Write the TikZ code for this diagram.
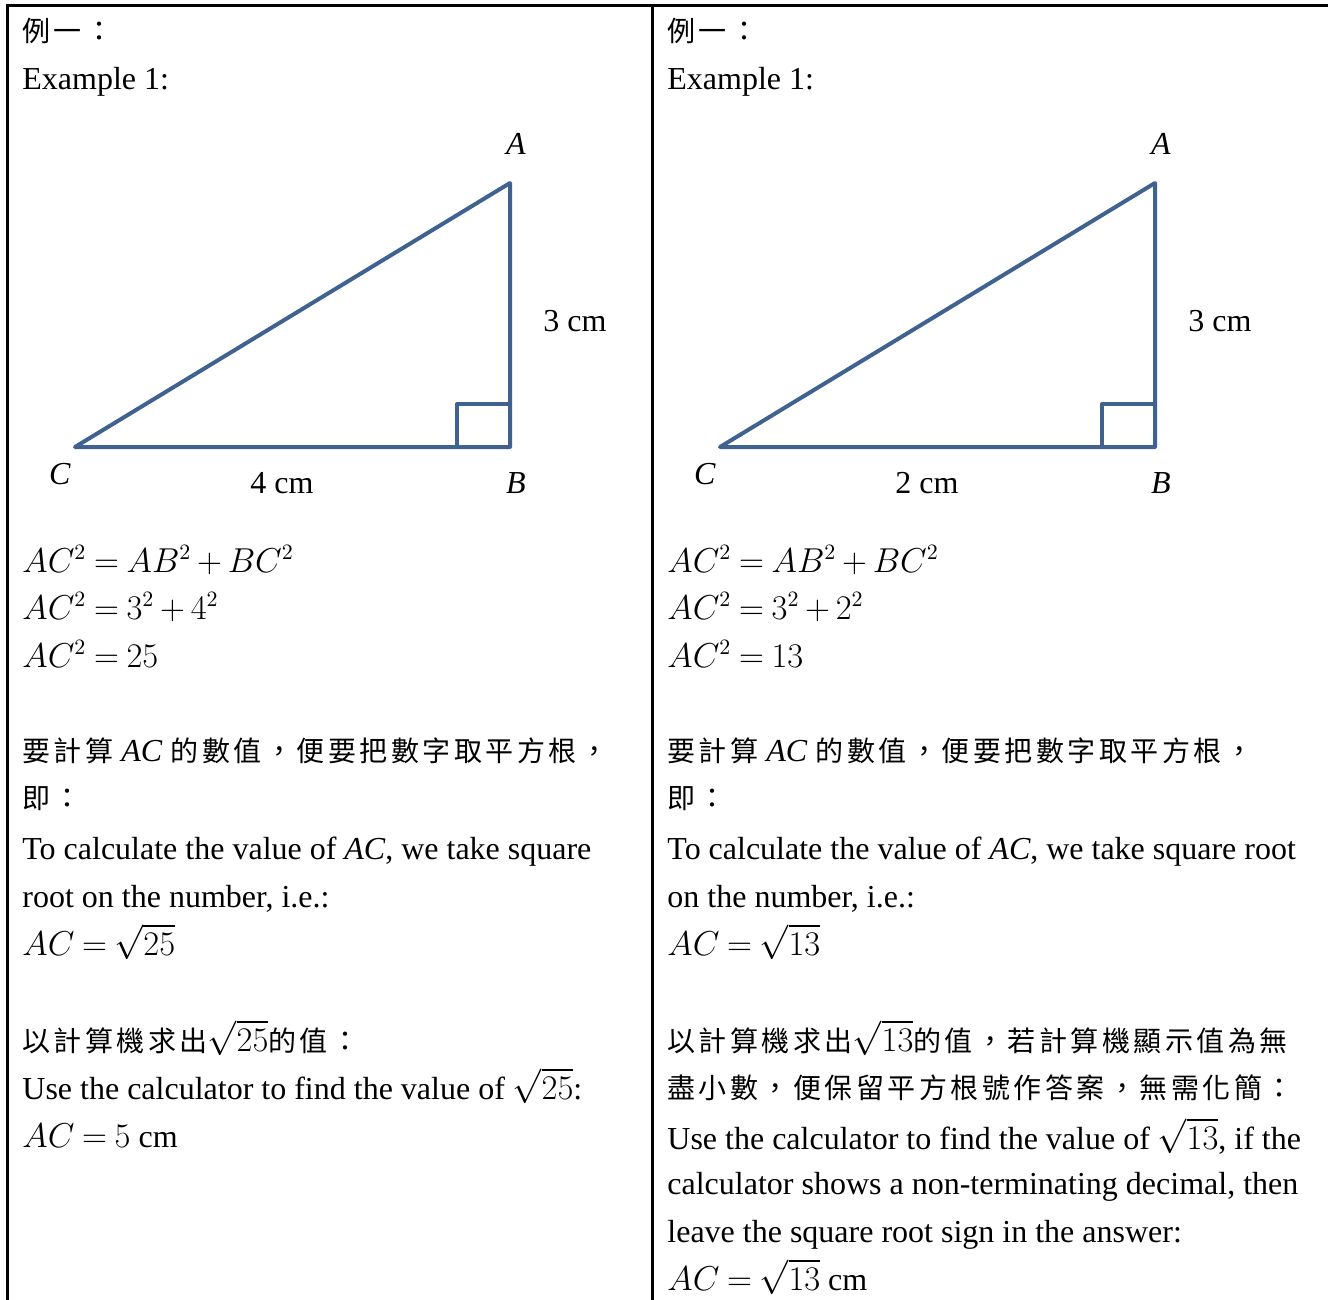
\documentclass[tikz,border=0pt]{standalone}
\usepackage{fontspec}
\setmainfont{Liberation Serif}
\newfontfamily\cjk[LetterSpace=12.5]{Noto Sans CJK TC}
\definecolor{triblue}{RGB}{64,98,145}
\newcommand{\latin}[1]{{\fontsize{16}{20}\selectfont\rmfamily #1}}
\thickmuskip=4mu plus 2mu\relax
\medmuskip=3mu plus 1mu\relax
\tikzset{
  frame/.style={line width=1.5pt,black},
  tri/.style={line width=2pt,triblue,line join=round,line cap=round},
  txt/.style={anchor=base west,inner sep=0pt,font=\fontsize{16}{20}\selectfont},
  ctxt/.style={anchor=base west,inner sep=0pt,font=\fontsize{14}{20}\selectfont\cjk},
  lab/.style={anchor=base,inner sep=0pt,font=\fontsize{16}{20}\selectfont}
}
\begin{document}
\begin{tikzpicture}[x=0.5pt,y=-0.5pt]
\useasboundingbox (0,0) rectangle (1328,1300);
% frame
\coordinate (tl) at (7,6);
\coordinate (tr) at (1328,6);
\coordinate (bl) at (7,1300);
\coordinate (mt) at (652,6);
\coordinate (mb) at (652,1300);
\draw[frame] (tr) -- (tl) -- (bl);
\draw[frame] (mt) -- (mb);

% ===== left column =====
\node[ctxt] (l1) at (22,42) {例一：};
\node[txt] (l2) at (22,90) {Example 1:};
\coordinate (lA) at (510,183);
\coordinate (lB) at (510,447);
\coordinate (lC) at (75,447);
\draw[tri] (lC) -- (lB) -- (lA) -- cycle;
\coordinate (lr1) at (457,447);
\coordinate (lr2) at (457,404);
\coordinate (lr3) at (510,404);
\draw[tri] (lr1) -- (lr2) -- (lr3);
\node[lab] (lAl) at (516,155) {\textit{A}};
\node[lab] (lBl) at (516,493) {\textit{B}};
\node[lab] (lCl) at (60,484) {\textit{C}};
\node[lab] (lh) at (575,331) {3 cm};
\node[lab] (lw) at (282,493) {4 cm};
\node[txt] (le1) at (22,572) {$AC^2=AB^2+BC^2$};
\node[txt] (le2) at (22,619) {$AC^2=3^2+4^2$};
\node[txt] (le3) at (22,667) {$AC^2=25$};
\node[ctxt] (lc1) at (22,761) {要計算\latin{ \textit{AC} }的數值，便要把數字取平方根，};
\node[ctxt] (lc2) at (22,808) {即：};
\node[txt] (lt1) at (22,859) {To calculate the value of \textit{AC}, we take square};
\node[txt] (lt2) at (22,907) {root on the number, i.e.:};
\node[txt] (lt3) at (22,955) {$AC=\sqrt{25}$};
\node[ctxt] (lc3) at (22,1051) {以計算機求出\latin{$\sqrt{25}$}的值：};
\node[txt] (lt4) at (22,1099) {Use the calculator to find the value of $\sqrt{25}$:};
\node[txt] (lt5) at (22,1147) {$AC=5$ cm};

% ===== right column =====
\node[ctxt] (r1) at (667,42) {例一：};
\node[txt] (r2) at (667,90) {Example 1:};
\coordinate (rA) at (1155,183);
\coordinate (rB) at (1155,447);
\coordinate (rC) at (720,447);
\draw[tri] (rC) -- (rB) -- (rA) -- cycle;
\coordinate (rr1) at (1102,447);
\coordinate (rr2) at (1102,404);
\coordinate (rr3) at (1155,404);
\draw[tri] (rr1) -- (rr2) -- (rr3);
\node[lab] (rAl) at (1161,155) {\textit{A}};
\node[lab] (rBl) at (1161,493) {\textit{B}};
\node[lab] (rCl) at (705,484) {\textit{C}};
\node[lab] (rh) at (1220,331) {3 cm};
\node[lab] (rw) at (927,493) {2 cm};
\node[txt] (re1) at (667,572) {$AC^2=AB^2+BC^2$};
\node[txt] (re2) at (667,619) {$AC^2=3^2+2^2$};
\node[txt] (re3) at (667,667) {$AC^2=13$};
\node[ctxt] (rc1) at (667,761) {要計算\latin{ \textit{AC} }的數值，便要把數字取平方根，};
\node[ctxt] (rc2) at (667,808) {即：};
\node[txt] (rt1) at (667,859) {To calculate the value of \textit{AC}, we take square root};
\node[txt] (rt2) at (667,907) {on the number, i.e.:};
\node[txt] (rt3) at (667,955) {$AC=\sqrt{13}$};
\node[ctxt] (rc3) at (667,1051) {以計算機求出\latin{$\sqrt{13}$}的值，若計算機顯示值為無};
\node[ctxt] (rc4) at (667,1098) {盡小數，便保留平方根號作答案，無需化簡：};
\node[txt] (rt4) at (667,1149) {Use the calculator to find the value of $\sqrt{13}$, if the};
\node[txt] (rt5) at (667,1194) {calculator shows a non-terminating decimal, then};
\node[txt] (rt6) at (667,1242) {leave the square root sign in the answer:};
\node[txt] (rt7) at (667,1290) {$AC=\sqrt{13}$ cm};
\end{tikzpicture}
\end{document}
